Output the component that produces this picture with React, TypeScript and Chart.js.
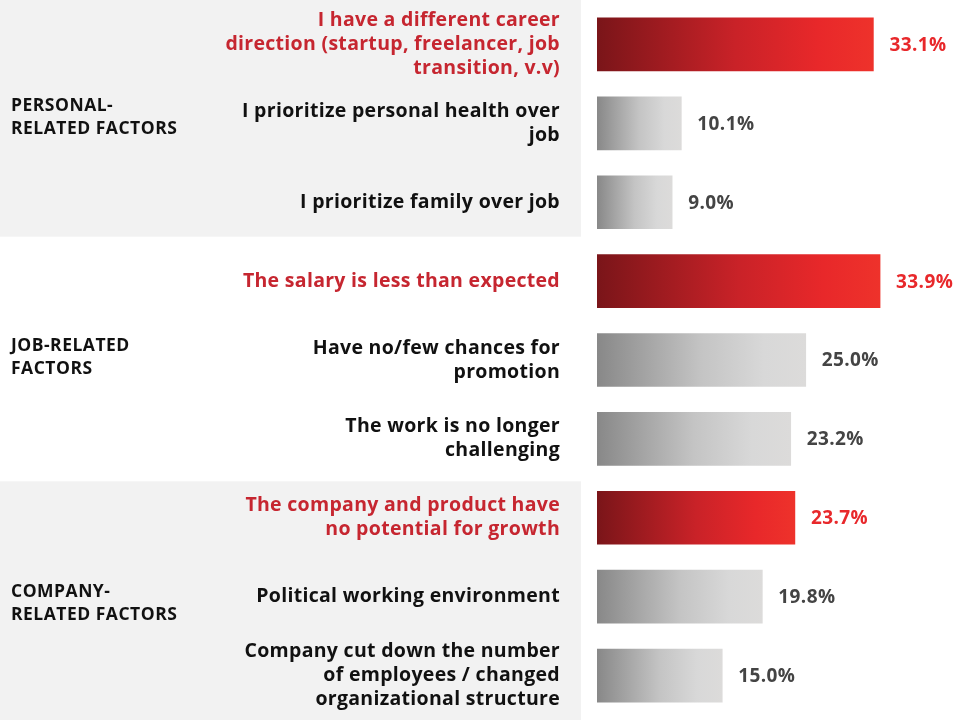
import React, { useEffect, useRef } from "react";
import { Chart, registerables } from "chart.js";

Chart.register(...registerables);

const categories: string[][] = [
  ["I have a different career", "direction (startup, freelancer, job", "transition, v.v)"],
  ["I prioritize personal health over", "job"],
  ["I prioritize family over job"],
  ["The salary is less than expected"],
  ["Have no/few chances for", "promotion"],
  ["The work is no longer", "challenging"],
  ["The company and product have", "no potential for growth"],
  ["Political working environment"],
  ["Company cut down the number", "of employees / changed", "organizational structure"],
];
const values: number[] = [33.1, 10.1, 9.0, 33.9, 25.0, 23.2, 23.7, 19.8, 15.0];
const highlighted: boolean[] = [true, false, false, true, false, false, true, false, false];
const groupLabels: string[][] = [
  ["PERSONAL-", "RELATED FACTORS"],
  ["JOB-RELATED", "FACTORS"],
  ["COMPANY-", "RELATED FACTORS"],
];
const groupShaded: boolean[] = [true, false, true];
const groupSize = 3;

const FONT = "'Open Sans', 'DejaVu Sans', sans-serif";

function bandBounds(chart: any, g: number) {
  const y = chart.scales.y;
  const first = g * groupSize;
  const last = first + groupSize - 1;
  const top = first === 0 ? 0 : y.getPixelForValue(first - 0.5) + (g === 1 ? -5 : 3);
  const bottom = last === categories.length - 1 ? chart.height : y.getPixelForValue(last + 0.5) + (g === 0 ? -5 : 3);
  return { top, bottom };
}

export default function App() {
  const ref = useRef<HTMLCanvasElement>(null);
  useEffect(() => {
    const canvas = ref.current!;
    const bgPlugin = {
      id: "bands",
      beforeDraw(chart: any) {
        const { ctx } = chart;
        ctx.save();
        ctx.fillStyle = "#f2f2f2";
        groupShaded.forEach((s, g) => {
          if (!s) return;
          const { top, bottom } = bandBounds(chart, g);
          ctx.fillRect(0, top, 581, bottom - top);
        });
        ctx.restore();
        (ctx as any).letterSpacing = "0.3px";
      },
      afterDatasetsDraw(chart: any) {
        const { ctx } = chart;
        const x = chart.scales.x;
        const y = chart.scales.y;
        ctx.save();
        ctx.letterSpacing = "0.4px";
        ctx.font = `700 19px ${FONT}`;
        ctx.textBaseline = "middle";
        ctx.textAlign = "left";
        values.forEach((v, i) => {
          ctx.fillStyle = highlighted[i] ? "#e8282b" : "#444444";
          ctx.fillText(v.toFixed(1) + "%", x.getPixelForValue(v) + 16, y.getPixelForValue(i) + 1);
        });
        ctx.letterSpacing = "0.5px";
        ctx.font = `700 17.5px ${FONT}`;
        ctx.fillStyle = "#111111";
        groupLabels.forEach((lines, g) => {
          const { top, bottom } = bandBounds(chart, g);
          const cy = (top + bottom) / 2 + (g === groupLabels.length - 1 ? 3 : -1);
          const lh = 23;
          lines.forEach((l, k) => {
            ctx.fillText(l, 11, cy + (k - (lines.length - 1) / 2) * lh);
          });
        });
        ctx.restore();
      },
      afterDraw(chart: any) {
        (chart.ctx as any).letterSpacing = "0px";
      },
    };

    const chart = new Chart(canvas, {
      type: "bar",
      data: {
        labels: categories,
        datasets: [
          {
            data: values,
            barThickness: 53,
            backgroundColor: (c: any) => {
              const chartObj = c.chart;
              const xs = chartObj.scales?.x;
              const fallback = highlighted[c.dataIndex] ? "#d42428" : "#bbbbbb";
              if (!xs || c.dataIndex === undefined) return fallback;
              const x0 = xs.getPixelForValue(0);
              const x1 = xs.getPixelForValue(values[c.dataIndex]);
              if (!isFinite(x0) || !isFinite(x1) || x1 <= x0) return fallback;
              const g = chartObj.ctx.createLinearGradient(x0, 0, x1, 0);
              if (highlighted[c.dataIndex]) {
                g.addColorStop(0, "#7a1519");
                g.addColorStop(0.5, "#c92228");
                g.addColorStop(0.8, "#e8282a");
                g.addColorStop(1, "#ee322b");
              } else {
                g.addColorStop(0, "#888888");
                g.addColorStop(0.5, "#c4c4c4");
                g.addColorStop(0.8, "#d8d8d8");
                g.addColorStop(1, "#dcdbda");
              }
              return g;
            },
            borderWidth: 0,
          },
        ],
      },
      options: {
        indexAxis: "y",
        animation: false,
        responsive: false,
        maintainAspectRatio: false,
        layout: { padding: { top: 5, bottom: 5, right: 31, left: 0 } },
        plugins: { legend: { display: false }, tooltip: { enabled: false } },
        scales: {
          x: {
            display: false,
            min: 0,
            max: 40,
          },
          y: {
            grid: { display: false, drawTicks: false },
            border: { display: false },
            afterFit: (s: any) => {
              s.width = 597;
              s.paddingTop = 0;
              s.paddingBottom = 0;
              s.paddingLeft = 0;
              s.paddingRight = 0;
            },
            ticks: {
              padding: 37,
              font: { family: FONT, size: 19.5, weight: "700", lineHeight: 1.23 },
              color: (c: any) => (highlighted[c.index] ? "#c62630" : "#111111"),
            },
          },
        },
      },
      plugins: [bgPlugin],
    });
    return () => chart.destroy();
  }, []);
  return (
    <div style={{ position: "fixed", left: 0, top: 0, width: 962, height: 720, background: "#fff" }}>
      <canvas ref={ref} width={962} height={720} style={{ width: 962, height: 720 }} />
    </div>
  );
}
